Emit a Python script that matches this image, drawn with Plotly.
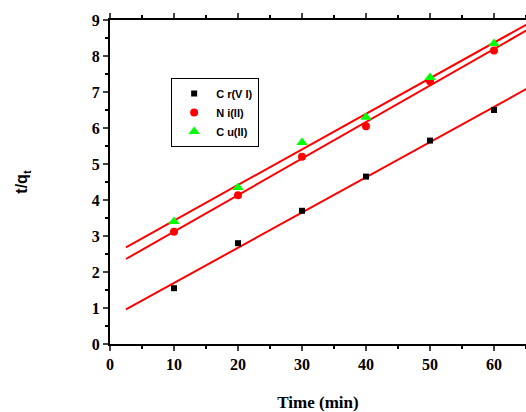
import numpy as np
import plotly.graph_objects as go

time_min = [10, 20, 30, 40, 50, 60]
cr_vi = [1.55, 2.80, 3.70, 4.65, 5.65, 6.50]
ni_ii = [3.12, 4.13, 5.20, 6.05, 7.30, 8.15]
cu_ii = [3.40, 4.35, 5.60, 6.30, 7.40, 8.35]
series_names = ["C r(V I)", "N i(II)", "C u(II)"]
fit_x_range = [2.5, 70]
x_ticks = [0, 10, 20, 30, 40, 50, 60]
y_ticks = [0, 1, 2, 3, 4, 5, 6, 7, 8, 9]

fig = go.Figure()

styles = [
    dict(symbol="square", color="black", size=6),
    dict(symbol="circle", color="red", size=8),
    dict(symbol="triangle-up", color="#00ff00", size=10),
]

for name, ys, st in zip(series_names, [cr_vi, ni_ii, cu_ii], styles):
    k, b = np.polyfit(time_min, ys, 1)
    fx = np.array(fit_x_range)
    fig.add_trace(go.Scatter(x=fx, y=k * fx + b, mode="lines",
                             line=dict(color="red", width=2), showlegend=False,
                             hoverinfo="skip"))

for name, ys, st in zip(series_names, [cr_vi, ni_ii, cu_ii], styles):
    fig.add_trace(go.Scatter(x=time_min, y=ys, mode="markers", name=name,
                             marker=dict(symbol=st["symbol"], color=st["color"],
                                         size=st["size"], line=dict(width=0))))

fig.update_layout(
    width=526, height=412,
    margin=dict(l=110, r=0, t=20, b=68),
    paper_bgcolor="white", plot_bgcolor="white",
    showlegend=True,
    legend=dict(x=0.147, y=0.821, xanchor="left", yanchor="top",
                bordercolor="black", borderwidth=1, bgcolor="white",
                font=dict(family="Liberation Sans", size=11, color="black", weight="bold"),
                itemsizing="trace", tracegroupgap=0, entrywidth=56,
                itemwidth=34),
    font=dict(family="Liberation Serif", color="black"),
)

fig.update_xaxes(
    range=[0, 65], tickvals=x_ticks, ticks="outside", ticklen=5, tickwidth=1.5,
    showline=True, linecolor="black", linewidth=2, mirror="ticks",
    showgrid=False, zeroline=False,
    tickfont=dict(family="Liberation Serif", size=16, color="black", weight="bold"),
    minor=dict(dtick=5, ticks="outside", ticklen=3, tickcolor="black", tick0=0),
    title=dict(text="Time (min)", font=dict(family="Liberation Serif", size=17,
                                              color="black", weight="bold"), standoff=24),
)
fig.update_yaxes(
    range=[0, 9], tickvals=y_ticks, ticks="outside", ticklen=5, tickwidth=1.5,
    showline=True, linecolor="black", linewidth=2,
    showgrid=False, zeroline=False,
    tickfont=dict(family="Liberation Serif", size=16, color="black", weight="bold"),
    minor=dict(dtick=0.5, ticks="outside", ticklen=3, tickcolor="black", tick0=0),
    title=dict(text="t/q<sub>t</sub>", font=dict(family="Liberation Sans", size=16,
                                                   color="black", weight="bold"), standoff=60),
)

fig.write_html("out.html")
